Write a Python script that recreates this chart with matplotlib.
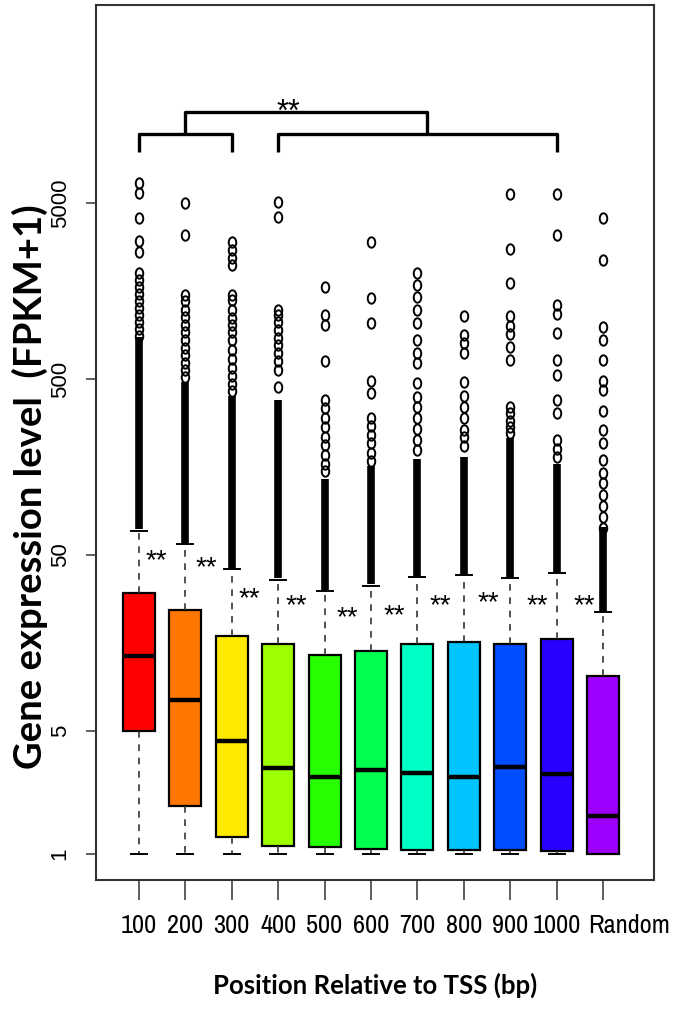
import matplotlib.pyplot as plt
from matplotlib.path import Path
from matplotlib.transforms import Affine2D, ScaledTranslation

# groups and box statistics (FPKM+1)
groups = ['100', '200', '300', '400', '500', '600', '700', '800', '900', '1000', 'Random']
colors = ['#FF0000', '#FF7600', '#FFEB00', '#9DFF00', '#27FF00', '#00FF4E',
          '#00FFC4', '#00C4FF', '#004EFF', '#2700FF', '#9D00FF']
whis_lo = [1, 1, 1, 1, 1, 1, 1, 1, 1, 1, 1]
q1 = [5.0, 1.88, 1.25, 1.11, 1.10, 1.06, 1.05, 1.05, 1.05, 1.04, 1.0]
med = [13.3, 7.5, 4.4, 3.07, 2.74, 3.0, 2.87, 2.74, 3.11, 2.86, 1.64]
q3 = [30.5, 24.4, 17.3, 15.5, 13.5, 14.3, 15.6, 15.9, 15.6, 16.6, 10.3]
whis_hi = [68.5, 57.5, 41.5, 36.0, 31.3, 33.5, 37.3, 38.3, 37.0, 39.5, 23.8]

# dense part of the outliers (too many points to tell apart)
band_lo = [70, 58, 42, 37, 31.5, 34, 38, 39, 37.5, 40, 24]
band_hi = [870, 480, 400, 380, 135, 160, 175, 180, 230, 165, 72]

# separate outliers
fliers = [
    [6470, 5720, 4125, 3050, 2640, 1990, 1830, 1670, 1520, 1390, 1270, 1150, 1050, 960, 880],
    [4980, 3290, 1500, 1380, 1230, 1130, 1010, 920, 830, 750, 680, 620, 560, 510],
    [3010, 2700, 2440, 2220, 1500, 1400, 1230, 1110, 1010, 920, 830, 730, 650, 580, 520, 470, 430],
    [5060, 4180, 1230, 1150, 1050, 950, 860, 780, 700, 630, 560, 450],
    [1670, 1150, 1010, 635, 380, 340, 300, 265, 235, 210, 185, 165, 150],
    [3010, 1440, 1040, 490, 415, 300, 270, 240, 215, 190, 170],
    [1990, 1710, 1460, 1230, 1040, 830, 700, 617, 474, 397, 345, 300, 260, 225, 197],
    [1140, 890, 800, 700, 480, 400, 345, 300, 256, 234, 207],
    [5620, 2740, 1760, 1140, 1000, 900, 760, 640, 345, 320, 290, 265, 245],
    [5620, 3290, 1320, 1170, 910, 640, 527, 380, 320, 225, 200, 181],
    [4125, 2370, 990, 830, 640, 490, 433, 330, 256, 215, 173, 146, 128, 110, 95, 82, 71],
]

# "**" between neighbouring boxes
star_x = [1.37, 2.44, 3.37, 4.40, 5.48, 6.50, 7.49, 8.52, 9.58, 10.59]
star_y = [52, 47.4, 31.6, 28.9, 24.7, 25.4, 28.9, 30.1, 28.9, 28.9]

# significance bracket on top
left_br = [1, 3]
right_br = [4, 10]
join_x = [2, 7.2]
br_y, br_tip, br_top = 12300, 9700, 16500

pos = list(range(1, len(groups) + 1))
stats = []
for i in range(len(groups)):
    stats.append(dict(med=med[i], q1=q1[i], q3=q3[i], whislo=whis_lo[i],
                      whishi=whis_hi[i], fliers=fliers[i], label=groups[i]))

fig = plt.figure(figsize=(6.75, 10.09), dpi=100)
ax = fig.add_axes([0.1422, 0.1279, 0.8267, 0.8671])
ax.set_yscale('log')

ell = Path.unit_circle().transformed(Affine2D().scale(0.72, 1.0))

ax.vlines(pos, band_lo, band_hi, color='black', lw=5.5, zorder=2)

bp = ax.bxp(stats, positions=pos, widths=0.69, patch_artist=True,
            boxprops=dict(edgecolor='black', lw=1.6),
            medianprops=dict(color='black', lw=3.2, solid_capstyle='butt'),
            whiskerprops=dict(color='#333333', lw=1.2, linestyle=(0, (4, 4))),
            capprops=dict(color='black', lw=1.4),
            flierprops=dict(marker=ell, markerfacecolor='none', markeredgecolor='black',
                            markersize=7.5, markeredgewidth=1.4))
for patch, c in zip(bp['boxes'], colors):
    patch.set_facecolor(c)

for x, y in zip(star_x, star_y):
    ax.annotate('**', (x, y), xytext=(0, -12), textcoords='offset points',
                ha='center', va='baseline', fontsize=20, family='Liberation Sans')

# bracket
kw = dict(color='black', lw=2.4, solid_capstyle='butt', clip_on=False)
ax.plot([left_br[0], left_br[0], left_br[1], left_br[1]], [br_tip, br_y, br_y, br_tip], **kw)
ax.plot([right_br[0], right_br[0], right_br[1], right_br[1]], [br_tip, br_y, br_y, br_tip], **kw)
ax.plot([join_x[0], join_x[0], join_x[1], join_x[1]], [br_y, br_top, br_top, br_y], **kw)
ax.annotate('**', (4.23, 18500), xytext=(0, -13), textcoords='offset points',
            ha='center', va='baseline', fontsize=22, family='Liberation Sans')

ax.set_xlim(0.073, 12.1)
ax.set_ylim(0.711, 66700)
ax.set_yticks([1, 5, 50, 500, 5000])
ax.set_yticklabels(['1', '5', '50', '500', '5000'], rotation=90, va='center',
                   fontsize=16, family='Liberation Sans')
ax.minorticks_off()
ax.set_xticks(pos)
ax.set_xticklabels(groups, fontsize=19, family=['Archivo Narrow', 'Liberation Sans'])
ax.tick_params(axis='x', length=14.4, width=1.1, pad=10, color='#333333')
ax.tick_params(axis='y', length=7.2, width=1.1, pad=11, color='#333333')
# the "Random" label sits right of its tick in the original
last = ax.get_xticklabels()[-1]
last.set_transform(last.get_transform() + ScaledTranslation(0.26, 0, fig.dpi_scale_trans))
for s in ax.spines.values():
    s.set_linewidth(1.5)
    s.set_color('#333333')

fig.text(30 / 675, 1 - 487 / 1009, 'Gene expression level  (FPKM+1)', rotation=90,
         ha='center', va='center', fontsize=27.5, fontweight='bold', family='Lato')
fig.text(375 / 675, 1 - 985 / 1009, 'Position Relative to TSS (bp)',
         ha='center', va='center', fontsize=18.5, fontweight='bold', family='Lato')

fig.savefig('out.png', dpi=100)
